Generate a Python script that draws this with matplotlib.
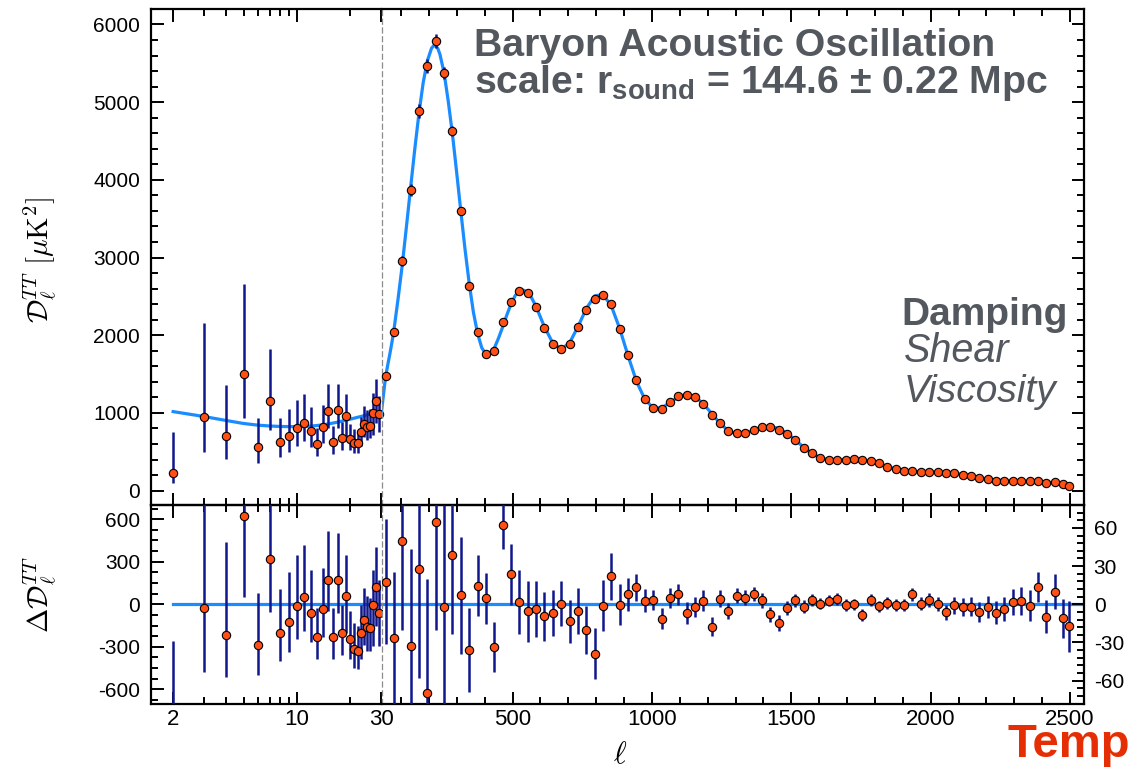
import matplotlib
matplotlib.use("Agg")
import matplotlib.pyplot as plt
from matplotlib.ticker import FixedLocator, FixedFormatter, MultipleLocator, NullFormatter

plt.rcParams['font.family'] = ['Liberation Sans', 'DejaVu Sans']
plt.rcParams['mathtext.fontset'] = 'cm'
plt.rcParams['mathtext.bf'] = 'Liberation Sans:bold'
plt.rcParams['axes.unicode_minus'] = False

# low-ell (unbinned) points
ell_lo = [2, 3, 4, 5, 6, 7, 8, 9, 10, 11, 12, 13, 14, 15, 16, 17, 18, 19, 20,
          21, 22, 23, 24, 25, 26, 27, 28, 29]
D_lo = [232, 945, 700, 1506, 566, 1158, 623, 704, 811, 875, 772, 605, 816, 1030,
        627, 1042, 682, 957, 665, 610, 610, 752, 858, 824, 833, 1004, 1154, 983]
err_lo_dn = [129, 451, 296, 574, 206, 377, 194, 213, 234, 239, 206, 160, 198, 223,
             152, 230, 154, 260, 142, 129, 131, 183, 173, 168, 161, 291, 280, 234]
err_lo_up = [528, 1210, 660, 1150, 366, 666, 316, 347, 361, 370, 305, 200, 287, 343,
             207, 333, 202, 285, 197, 187, 173, 199, 227, 218, 214, 248, 279, 230]
res_lo = [-785, -28, -220, 623, -290, 319, -206, -122, -14, 49, -61, -229, -30, 174,
          -232, 169, -204, 59, -246, -318, -328, -201, -112, -162, -169, -4, 124, -61]

# high-ell binned points
ell_hi = [44.5, 74.5, 104.5, 134.5, 164.5, 194.5, 224.5, 254.5, 284.5, 314.5,
          344.5, 374.5, 404.5, 434.5, 464.5, 494.5, 524.5, 554.5, 584.5, 614.5,
          644.5, 674.5, 704.5, 734.5, 764.5, 794.5, 824.5, 854.5, 884.5, 914.5,
          944.5, 974.5, 1004.5, 1034.5, 1064.5, 1094.5, 1124.5, 1154.5, 1184.5, 1214.5,
          1244.5, 1274.5, 1304.5, 1334.5, 1364.5, 1394.5, 1424.5, 1454.5, 1484.5, 1514.5,
          1544.5, 1574.5, 1604.5, 1634.5, 1664.5, 1694.5, 1724.5, 1754.5, 1784.5, 1814.5,
          1844.5, 1874.5, 1904.5, 1934.5, 1964.5, 1994.5, 2024.5, 2054.5, 2084.5, 2114.5,
          2144.5, 2174.5, 2204.5, 2234.5, 2264.5, 2294.5, 2324.5, 2354.5, 2384.5, 2414.5,
          2444.5, 2474.5, 2496]
D_hi = [1480, 2039, 2956, 3870, 4887, 5462, 5788, 5376, 4626, 3604,
        2635, 2039, 1759, 1798, 2167, 2425, 2574, 2548, 2364, 2098,
        1892, 1820, 1888, 2103, 2322, 2467, 2523, 2399, 2085, 1743,
        1421, 1180, 1068, 1051, 1138, 1215, 1236, 1210, 1120, 974,
        871, 764, 738, 745, 781, 816, 818, 785, 734, 657,
        554, 481, 421, 399, 395, 399, 404, 391, 378, 352,
        309, 279, 257, 250, 241, 241, 241, 232, 228, 206,
        185, 160, 147, 129, 125, 125, 125, 121, 129, 99,
        108, 82, 64]
err_hi = [49, 52, 70, 76, 85, 89, 85, 80, 62, 46,
          33, 24, 20, 20, 19, 24, 25, 24, 22, 19.5,
          18, 17.5, 17, 18, 19, 20, 20, 18.5, 16, 13,
          10.5, 9, 8, 8, 8, 8, 8.5, 8, 8, 7.5,
          6.5, 6, 6, 6, 5.5, 6, 6, 6, 5.5, 5,
          5, 4.5, 4.5, 4.5, 4.5, 4.5, 4.5, 4.5, 4.5, 4.5,
          4.5, 4.5, 4.5, 5, 5, 5.5, 5.5, 6, 6.5, 7,
          7.5, 8, 8.5, 9, 9.5, 10, 11, 12, 12, 13,
          14, 15.5, 20]
res_hi = [17.7, -26.8, 49.7, -32.6, 27.4, -69.5, 65, -2, 38.4, 6.9,
          -35.8, 14.5, 4.7, -33.6, 62.4, 23.7, 1.6, -5.5, -3.7, -9.5,
          -6.6, 0.5, -13.4, -5.0, -20, -38.9, -1.0, 22.1, -0.2, 7.7,
          13.2, 2.9, 3.4, -11.3, 5.0, 7.7, -6.8, -2.4, 2.9, -17.6,
          4.5, -5.3, 6.6, 5.3, 7.7, 3.2, -7.9, -14.7, -2.6, 3.2,
          -1.8, 3.2, 0.5, 2.9, 4.2, -0.5, 0, -8.4, 3.2, -1.6,
          1.1, -0.5, -0.5, 7.7, 0.5, 3.4, 0.5, -6.3, -0.8, -2.1,
          -2.1, -6.0, -2.4, -6.6, -3.7, 1.6, 2.6, -1.0, 13.7, -9.7,
          10.0, -11.1, -17.4]

# best-fit model curve
model_ell_lo = [2, 3, 4, 5, 6, 7, 8, 9, 10, 11, 12, 13, 14, 15, 16, 17, 18, 19, 20,
                21, 22, 23, 24, 25, 26, 27, 28, 29, 30]
model_D_lo = [1017, 953, 902, 864, 843, 832, 826, 824, 824, 826, 831, 838, 847, 858,
              870, 882, 895, 908, 920, 932, 944, 955, 966, 976, 985, 994, 1002, 1010, 1018]
model_ell_hi = [30, 37, 44.5, 52, 59.5, 67, 74.5, 89.5, 104.5, 119.5, 134.5, 149.5,
                164.5, 179.5, 194.5, 209.5, 217, 224.5, 232, 239.5, 254.5, 269.5,
                284.5, 299.5, 314.5, 329.5, 344.5, 359.5, 374.5, 389.5, 404.5, 419.5,
                434.5, 449.5, 464.5, 479.5, 494.5, 509.5, 524.5, 539.5, 554.5, 569.5,
                584.5, 614.5, 644.5, 674.5, 704.5, 734.5, 764.5, 794.5, 824.5, 854.5,
                884.5, 914.5, 944.5, 974.5, 1004.5, 1034.5, 1064.5, 1094.5, 1124.5, 1154.5,
                1184.5, 1214.5, 1244.5, 1274.5, 1304.5, 1334.5, 1364.5, 1394.5, 1424.5, 1454.5,
                1484.5, 1514.5, 1544.5, 1574.5, 1604.5, 1634.5, 1664.5, 1694.5, 1724.5, 1754.5,
                1784.5, 1814.5, 1844.5, 1874.5, 1904.5, 1934.5, 1964.5, 1994.5, 2024.5, 2054.5,
                2084.5, 2114.5, 2144.5, 2174.5, 2204.5, 2234.5, 2264.5, 2294.5, 2324.5, 2354.5,
                2384.5, 2414.5, 2444.5, 2474.5, 2496]
model_D_hi = [1018, 1230, 1462, 1610, 1750, 1900, 2066, 2470, 2906, 3400, 3903, 4400,
              4860, 5250, 5532, 5694, 5725, 5723, 5690, 5617, 5378, 5010,
              4588, 4100, 3597, 3110, 2671, 2300, 2024, 1840, 1754, 1765,
              1832, 1960, 2105, 2260, 2401, 2510, 2572, 2580, 2553, 2475,
              2368, 2108, 1899, 1820, 1901, 2108, 2342, 2506, 2524, 2377,
              2085, 1735, 1408, 1177, 1065, 1062, 1133, 1207, 1243, 1212,
              1117, 992, 866, 769, 731, 740, 773, 813, 826, 800,
              737, 654, 556, 478, 421, 396, 391, 399, 404, 399,
              375, 354, 308, 279, 257, 245, 241, 238, 235, 232,
              226, 208, 187, 166, 149, 136, 129, 124, 122, 120,
              115, 108, 99, 92, 82]

W, H = 1128, 772
fig = plt.figure(figsize=(W / 100, H / 100), dpi=100)


def box(x0, y0, x1, y1):
    return [x0 / W, 1 - y1 / H, (x1 - x0) / W, (y1 - y0) / H]


def fx(x):
    return x / W


def fy(y):
    return 1 - y / H


ax_lt = fig.add_axes(box(151, 9.3, 381.5, 505))
ax_ht = fig.add_axes(box(381.5, 9.3, 1084, 505))
ax_lb = fig.add_axes(box(151, 505, 381.5, 703.5))
ax_hb = fig.add_axes(box(381.5, 505, 1084, 703.5))

blue = "#1a8cff"
navy = "#10178c"
orange = "#ff4f14"
pt_style = dict(fmt='o', ms=6, mfc=orange, mec='black', mew=0.8,
                ecolor=navy, elinewidth=1.8, capsize=0, zorder=3)

# top panel
ax_lt.plot(model_ell_lo, model_D_lo, color=blue, lw=2.3, zorder=1)
ax_lt.errorbar(ell_lo, D_lo, yerr=[err_lo_dn, err_lo_up], clip_on=False, **pt_style)
ax_ht.plot(model_ell_hi, model_D_hi, color=blue, lw=2.3, zorder=1)
ax_ht.errorbar(ell_hi, D_hi, yerr=err_hi, clip_on=False, **pt_style)

# residuals
ax_lb.plot([2, 30], [0, 0], color=blue, lw=2.3, zorder=1)
ax_lb.errorbar(ell_lo, res_lo, yerr=[err_lo_dn, err_lo_up], **pt_style)
ax_hb.axhline(0, color=blue, lw=2.3, zorder=1)
ax_hb.errorbar(ell_hi, res_hi, yerr=err_hi, **pt_style)

for ax in (ax_lt, ax_lb):
    ax.set_xscale('log')
    ax.set_xlim(1.5, 30)
    ax.xaxis.set_major_locator(FixedLocator([2, 10, 30]))
    ax.xaxis.set_minor_locator(FixedLocator([3, 4, 5, 6, 7, 8, 9, 20]))
    ax.xaxis.set_minor_formatter(NullFormatter())
    ax.xaxis.set_major_formatter(FixedFormatter(['2', '10', '30']))
    ax.spines['right'].set_visible(False)
    ax.tick_params(which='both', left=True, right=False)

for ax in (ax_ht, ax_hb):
    ax.set_xlim(30, 2550)
    ax.xaxis.set_major_locator(FixedLocator([500, 1000, 1500, 2000, 2500]))
    ax.xaxis.set_minor_locator(MultipleLocator(100))
    ax.spines['left'].set_linestyle((0, (4, 3)))
    ax.spines['left'].set_color('#8c8c8c')
    ax.spines['left'].set_linewidth(0.9)
    ax.tick_params(which='both', left=False, right=True, labelleft=False)

for ax in (ax_lt, ax_ht):
    ax.set_ylim(-185, 6195)
    ax.yaxis.set_major_locator(MultipleLocator(1000))
    ax.yaxis.set_minor_locator(MultipleLocator(200))
    ax.tick_params(labelbottom=False)
ax_ht.tick_params(labelright=False)

ax_lb.set_ylim(-700, 700)
ax_lb.yaxis.set_major_locator(FixedLocator([-600, -300, 0, 300, 600]))
ax_lb.yaxis.set_minor_locator(MultipleLocator(75))
ax_hb.set_ylim(-78, 78)
ax_hb.yaxis.set_major_locator(FixedLocator([-60, -30, 0, 30, 60]))
ax_hb.yaxis.set_minor_locator(MultipleLocator(6))
ax_hb.tick_params(labelright=True)

for ax in (ax_lt, ax_ht, ax_lb, ax_hb):
    ax.patch.set_visible(False)
    ax.tick_params(which='both', direction='in', top=True, bottom=True,
                   width=1.4, colors='black')
    ax.tick_params(which='major', length=9)
    ax.tick_params(which='minor', length=5)
    ax.tick_params(axis='y', pad=8, labelsize=15)
    ax.tick_params(axis='x', pad=4, labelsize=16)
    for side in ('top', 'bottom', 'left', 'right'):
        if not (side == 'left' and ax in (ax_ht, ax_hb)):
            ax.spines[side].set_linewidth(1.6)
ax_hb.tick_params(axis='y', pad=7)

# axis labels
fig.text(fx(40), fy(260), r'$\mathcal{D}_\ell^{TT}\ [\mu\mathrm{K}^2]$', rotation=90,
         ha='center', va='center', size=21)
fig.text(fx(40), fy(595), r'$\Delta\mathcal{D}_\ell^{TT}$', rotation=90,
         ha='center', va='center', size=21)
fig.text(fx(620), fy(755), r'$\ell$', ha='center', va='center', size=22)

# annotations
gray = "#53575e"
fig.text(fx(474), fy(56), 'Baryon Acoustic Oscillation',
         weight='bold', size=28.3, color=gray, va='baseline')
fig.text(fx(474), fy(93), r'scale: r$_{\mathbf{sound}}$ = 144.6 ± 0.22 Mpc',
         weight='bold', size=28.3, color=gray, va='baseline',
         math_fontfamily='custom')
fig.text(fx(1068), fy(325), 'Damping', weight='bold', size=28,
         color=gray, va='baseline', ha='right')
fig.text(fx(904), fy(362), 'Shear', style='italic', size=28.5,
         color=gray, va='baseline')
fig.text(fx(904), fy(402), 'Viscosity', style='italic', size=28,
         color=gray, va='baseline')
fig.text(fx(1008), fy(757), 'Temperature', weight='bold', size=34,
         color='#e62e04', va='baseline')

fig.savefig('out.png', dpi=100)
